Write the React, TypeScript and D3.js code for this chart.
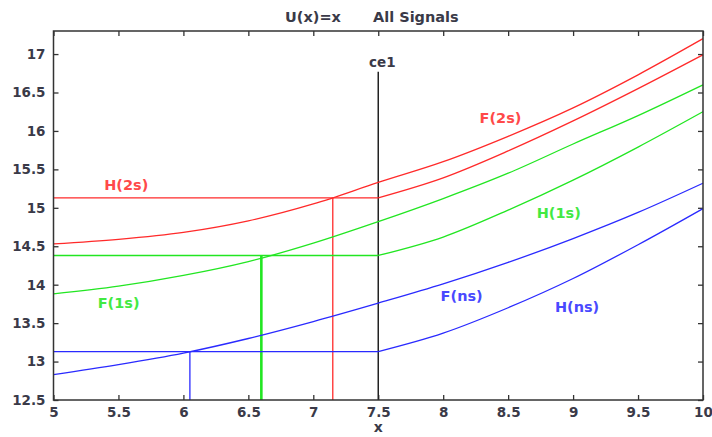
import React, { useEffect, useRef } from "react";
import * as d3 from "d3";

const width = 712;
const height = 437;
const margin = { left: 53.5, right: 9, top: 31, bottom: 37 };

// x positions shared by all curves
const xValues = [5, 5.5, 6, 6.5, 7, 7.5, 8, 8.5, 9, 9.5, 10];

const f2s = [14.53, 14.59, 14.68, 14.83, 15.05, 15.33, 15.6, 15.93, 16.3, 16.73, 17.2];
const h2s = [15.13, 15.13, 15.13, 15.13, 15.13, 15.13, 15.39, 15.74, 16.13, 16.55, 16.99];
const f1s = [13.88, 13.98, 14.12, 14.3, 14.54, 14.82, 15.12, 15.45, 15.83, 16.2, 16.6];
const h1s = [14.38, 14.38, 14.38, 14.38, 14.38, 14.38, 14.62, 14.97, 15.36, 15.79, 16.25];
const fns = [12.83, 12.96, 13.11, 13.3, 13.52, 13.76, 14.01, 14.29, 14.6, 14.94, 15.32];
const hns = [13.13, 13.13, 13.13, 13.13, 13.13, 13.13, 13.37, 13.7, 14.08, 14.52, 14.99];

const seriesNames = ["F(2s)", "H(2s)", "F(1s)", "H(1s)", "F(ns)", "H(ns)"];
const seriesValues = [f2s, h2s, f1s, h1s, fns, hns];
const seriesColors = ["#ff2a2a", "#ff2a2a", "#22e622", "#22e622", "#2a2aff", "#2a2aff"];
// where each label sits, in data units
const labelX = [8.28, 5.39, 5.34, 8.72, 7.98, 8.86];
const labelY = [16.1, 15.23, 13.7, 14.87, 13.79, 13.64];

// drop lines from the crossing points
const dropX = [6.05, 6.6, 7.15];
const dropY = [13.13, 14.38, 15.13];
const dropColors = ["#2a2aff", "#22e622", "#ff2a2a"];
const dropWidths = [1.3, 2.6, 1.3];

const ceX = 7.5;
const ceTop = 16.77;

const xTicks = [5, 5.5, 6, 6.5, 7, 7.5, 8, 8.5, 9, 9.5, 10];
const yTicks = [12.5, 13, 13.5, 14, 14.5, 15, 15.5, 16, 16.5, 17];

const font = "DejaVu Sans, Verdana, sans-serif";
const textColor = "#3a3a48";

const App = () => {
  const ref = useRef<SVGSVGElement>(null);

  const chart = () => {
    const svg = d3.select(ref.current);
    svg.selectAll("*").remove();

    const x = d3
      .scaleLinear()
      .domain([5, 10])
      .range([margin.left, width - margin.right]);
    const y = d3
      .scaleLinear()
      .domain([12.5, 17.3])
      .range([height - margin.bottom, margin.top]);

    svg.append("rect").attr("width", width).attr("height", height).attr("fill", "#fff");

    // title
    svg.append("text")
      .attr("x", 285).attr("y", 22)
      .attr("font-family", font).attr("font-weight", "bold").attr("font-size", 14.5)
      .attr("fill", textColor)
      .text("U(x)=x");
    svg.append("text")
      .attr("x", 373).attr("y", 22)
      .attr("font-family", font).attr("font-weight", "bold").attr("font-size", 14.5)
      .attr("fill", textColor)
      .text("All Signals");

    // axes with inward ticks
    const styleAxis = (g) => {
      g.select(".domain").remove();
      g.selectAll("line").attr("stroke", "#333").attr("stroke-width", 1.3);
      g.selectAll("text")
        .attr("font-family", font)
        .attr("font-weight", "bold")
        .attr("font-size", 13.5)
        .attr("fill", textColor);
    };

    svg.append("g")
      .attr("transform", `translate(0, ${height - margin.bottom})`)
      .call(d3.axisBottom(x).tickValues(xTicks).tickSizeInner(-5).tickSizeOuter(0).tickPadding(7).tickFormat(d3.format("")))
      .call(styleAxis);
    svg.append("g")
      .attr("transform", `translate(0, ${margin.top})`)
      .call(d3.axisTop(x).tickValues(xTicks).tickSizeInner(-5).tickSizeOuter(0).tickFormat(() => ""))
      .call(styleAxis);
    svg.append("g")
      .attr("transform", `translate(${margin.left}, 0)`)
      .call(d3.axisLeft(y).tickValues(yTicks).tickSizeInner(-5).tickSizeOuter(0).tickPadding(8).tickFormat(d3.format("")))
      .call(styleAxis);
    svg.append("g")
      .attr("transform", `translate(${width - margin.right}, 0)`)
      .call(d3.axisRight(y).tickValues(yTicks).tickSizeInner(-5).tickSizeOuter(0).tickFormat(() => ""))
      .call(styleAxis);

    svg.append("text")
      .attr("x", x(7.5)).attr("y", 432)
      .attr("text-anchor", "middle")
      .attr("font-family", font).attr("font-weight", "bold").attr("font-size", 14)
      .attr("fill", textColor)
      .text("x");

    // ce1 marker
    svg.append("line")
      .attr("x1", x(ceX)).attr("x2", x(ceX))
      .attr("y1", y(12.5)).attr("y2", y(ceTop))
      .attr("stroke", "#222").attr("stroke-width", 1.5);
    svg.append("text")
      .attr("x", x(ceX) + 4).attr("y", y(ceTop) - 5)
      .attr("text-anchor", "middle")
      .attr("font-family", font).attr("font-weight", "bold").attr("font-size", 13.5)
      .attr("fill", textColor)
      .text("ce1");

    // drop lines
    dropX.forEach((dx, i) => {
      svg.append("line")
        .attr("x1", x(dx)).attr("x2", x(dx))
        .attr("y1", y(12.5)).attr("y2", y(dropY[i]))
        .attr("stroke", dropColors[i]).attr("stroke-width", dropWidths[i]);
    });

    const flatLine = d3
      .line<[number, number]>()
      .x((d) => x(d[0]))
      .y((d) => y(d[1]));
    const smoothLine = d3
      .line<[number, number]>()
      .x((d) => x(d[0]))
      .y((d) => y(d[1]))
      .curve(d3.curveMonotoneX);

    // H curves are flat up to ce1, then bend upward: keep the corner sharp
    seriesValues.forEach((vals, i) => {
      const pts: [number, number][] = vals.map((v, j) => [xValues[j], v]);
      let k = 0;
      while (k + 1 < vals.length && vals[k + 1] === vals[0]) k++;
      if (k > 0) {
        svg.append("path")
          .attr("d", flatLine(pts.slice(0, k + 1)))
          .attr("fill", "none")
          .attr("stroke", seriesColors[i])
          .attr("stroke-width", 1.3);
      }
      svg.append("path")
        .attr("d", smoothLine(pts.slice(k)))
        .attr("fill", "none")
        .attr("stroke", seriesColors[i])
        .attr("stroke-width", 1.3);
    });

    svg.append("g")
      .selectAll("text")
      .data(seriesNames)
      .join("text")
      .attr("x", (d, i) => x(labelX[i]))
      .attr("y", (d, i) => y(labelY[i]))
      .attr("font-family", font)
      .attr("font-weight", "bold")
      .attr("font-size", 14.5)
      .attr("fill", (d, i) => seriesColors[i])
      .attr("opacity", 0.85)
      .text((d) => d);

    // plot frame
    svg.append("rect")
      .attr("x", margin.left).attr("y", margin.top)
      .attr("width", width - margin.left - margin.right)
      .attr("height", height - margin.top - margin.bottom)
      .attr("fill", "none")
      .attr("stroke", "#333")
      .attr("stroke-width", 1.5);
  };

  useEffect(() => {
    chart();
  }, []);

  return (
    <svg
      ref={ref}
      width={width}
      height={height}
      style={{ position: "absolute", left: 0, top: 0, display: "block" }}
    />
  );
};

export default App;
